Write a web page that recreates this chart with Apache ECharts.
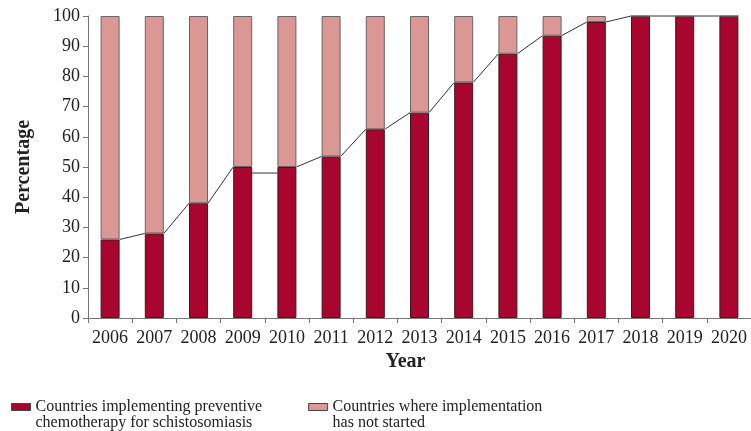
<!DOCTYPE html>
<html>
<head>
<meta charset="utf-8">
<script src="https://cdn.jsdelivr.net/npm/echarts@6/dist/echarts.min.js"></script>
<style>
  html, body { margin: 0; padding: 0; background: #fff; }
  #chart { width: 751px; height: 431px; }
</style>
</head>
<body>
<div id="chart"></div>
<script>
// data
var years = ['2006','2007','2008','2009','2010','2011','2012','2013','2014','2015','2016','2017','2018','2019','2020'];
var implementing = [26, 28, 38, 50, 50, 53.5, 62.5, 68, 78, 87.5, 93.5, 98, 100, 100, 100];
var notStarted = implementing.map(function (v) { return 100 - v; });
// connector line between bars: value at left bar, value at right bar
var linkFrom = [26, 28, 38, 48, 50, 53.5, 62.5, 68, 78, 87.5, 93.5, 98, 100, 100];
var linkTo   = [28, 38, 50, 48, 53.5, 62.5, 68, 78, 87.5, 93.5, 98, 100, 100, 100];
var yTicks = { min: 0, max: 100, step: 10 };
var names = ['Countries implementing preventive\nchemotherapy for schistosomiasis',
             'Countries where implementation\nhas not started'];

var dark = '#a8062f';
var light = '#db9794';
var serif = '"Liberation Serif", "DejaVu Serif", serif';
var barW = 19;

var links = linkFrom.map(function (v, i) { return [i, v, linkTo[i]]; });

var myChart = echarts.init(document.getElementById('chart'));

var option = {
    animation: false,
    grid: { left: 88, top: 16, width: 666, bottom: 113 },
    legend: {
        left: 6,
        top: 378,
        itemWidth: 19,
        itemHeight: 7,
        itemGap: 46,
        icon: 'rect',
        data: [
            { name: names[0], itemStyle: { borderColor: '#444', borderWidth: 1 } },
            { name: names[1], itemStyle: { borderColor: '#444', borderWidth: 1 } }
        ],
        // blank first line so the icon sits beside the first text line
        formatter: function (n) { return ' \n' + n; },
        textStyle: {
            fontFamily: serif,
            fontSize: 16,
            color: '#222',
            lineHeight: 16
        },
        selectedMode: false
    },
    xAxis: {
        type: 'category',
        data: years,
        name: 'Year',
        nameLocation: 'middle',
        nameGap: 33,
        nameTextStyle: { fontFamily: serif, fontSize: 20, fontWeight: 'bold', color: '#222', padding: [0, 28, 0, 0] },
        axisLine: { lineStyle: { color: '#777', width: 1 } },
        axisTick: { show: true, length: 5, interval: 0, lineStyle: { color: '#777' } },
        axisLabel: { fontFamily: serif, fontSize: 18, color: '#222', margin: 11, interval: 0 }
    },
    yAxis: {
        type: 'value',
        min: yTicks.min,
        max: yTicks.max,
        interval: yTicks.step,
        name: 'Percentage',
        nameLocation: 'middle',
        nameGap: 54,
        nameTextStyle: { fontFamily: serif, fontSize: 20, fontWeight: 'bold', color: '#222' },
        axisLine: { show: true, lineStyle: { color: '#777', width: 1 } },
        axisTick: { show: true, length: 5, lineStyle: { color: '#777' } },
        axisLabel: { fontFamily: serif, fontSize: 18, color: '#222', margin: 8 },
        splitLine: { show: false }
    },
    series: [
        {
            name: names[0],
            type: 'bar',
            stack: 'total',
            barWidth: barW,
            data: implementing,
            itemStyle: { color: dark, borderColor: '#3a1a1f', borderWidth: 1 }
        },
        {
            name: names[1],
            type: 'bar',
            stack: 'total',
            barWidth: barW,
            data: notStarted,
            itemStyle: { color: light, borderColor: '#666', borderWidth: 1 }
        },
        {
            type: 'custom',
            z: 5,
            silent: true,
            data: links,
            renderItem: function (params, api) {
                var i = api.value(0);
                var a = api.coord([i, api.value(1)]);
                var b = api.coord([i + 1, api.value(2)]);
                return {
                    type: 'line',
                    shape: { x1: a[0] + barW / 2, y1: a[1], x2: b[0] - barW / 2, y2: b[1] },
                    style: { stroke: '#333', lineWidth: 1 }
                };
            }
        }
    ]
};

myChart.setOption(option);
</script>
</body>
</html>
